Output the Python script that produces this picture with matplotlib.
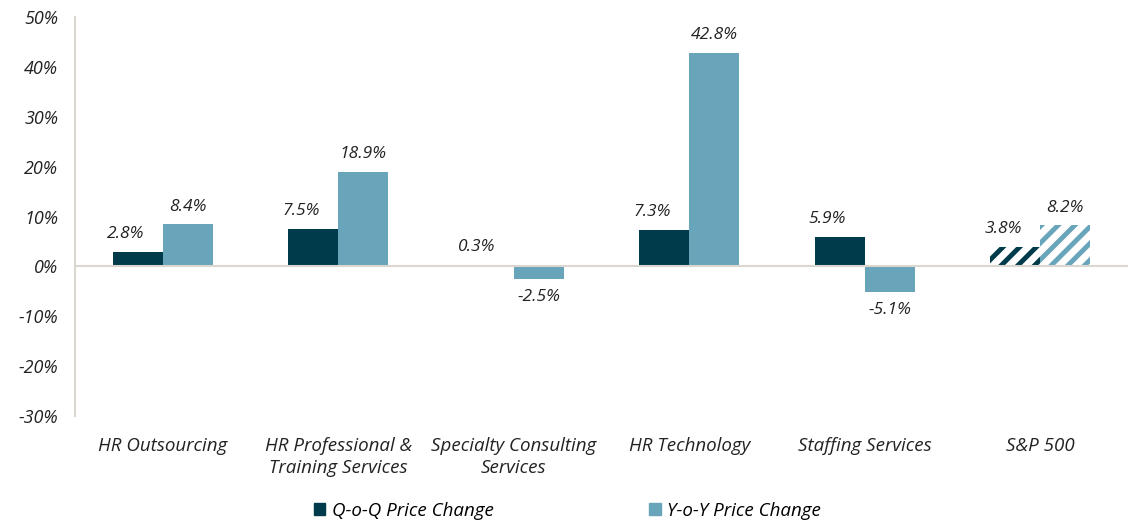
import matplotlib
matplotlib.use("Agg")
import matplotlib.pyplot as plt
import numpy as np

categories = ["HR Outsourcing", "HR Professional &\nTraining Services", "Specialty Consulting\nServices",
              "HR Technology", "Staffing Services", "S&P 500"]
qoq = [2.8, 7.5, 0.3, 7.3, 5.9, 3.8]
yoy = [8.4, 18.9, -2.5, 42.8, -5.1, 8.2]
yticks = [-30, -20, -10, 0, 10, 20, 30, 40, 50]
series_names = ["Q-o-Q Price Change", "Y-o-Y Price Change"]

dark = "#003B4C"
light = "#68A4BA"
axcol = "#DCD6D0"
txtcol = "#222222"

plt.rcParams['font.family'] = ['Open Sans', 'DejaVu Sans']
plt.rcParams['hatch.linewidth'] = 3.5
FS_CAT = 13.5
FS_TICK = 13
FS_LAB = 12.5

fig = plt.figure(figsize=(11.35, 5.25), dpi=100)
ax = fig.add_axes([75/1135, 1-416/525, (1128-75)/1135, (416-17)/525])

x = np.arange(len(categories))
w = 0.285
n = len(categories)
for i in range(n):
    hatched = categories[i] == "S&P 500"
    for val, off, col in ((qoq[i], -w/2, dark), (yoy[i], w/2, light)):
        if hatched:
            ax.bar(x[i] + off, val, w, facecolor="white", edgecolor=col, hatch="//", linewidth=0, zorder=2)
        else:
            ax.bar(x[i] + off, val, w, color=col, zorder=2)
        va = "bottom" if val >= 0 else "top"
        dy = 2.0 if val >= 0 else -2.0
        ax.text(x[i] + off - (0.07 if off < 0 else 0), val + dy, f"{val:.1f}%", ha="center", va=va,
                fontsize=FS_LAB, style="italic", color=txtcol)

ax.set_xlim(-0.5, n - 0.5)
ax.set_ylim(-30, 50)
ax.set_yticks(yticks)
ax.set_yticklabels([f"{t}%" for t in yticks], fontsize=FS_TICK, style="italic", color=txtcol)
ax.set_xticks(x)
ax.set_xticklabels(categories, fontsize=FS_CAT, style="italic", color=txtcol, linespacing=1.3)
ax.tick_params(axis="both", length=0)
ax.tick_params(axis="y", pad=12)
ax.tick_params(axis="x", pad=15)
for s in ["top", "right", "bottom"]:
    ax.spines[s].set_visible(False)
ax.spines["left"].set_color(axcol)
ax.spines["left"].set_linewidth(1.5)
ax.axhline(0, color=axcol, linewidth=1.5, zorder=3)

from matplotlib.patches import Patch
handles = [Patch(color=dark), Patch(color=light)]
fig.legend(handles, series_names, loc="center", bbox_to_anchor=(0.5, 1-511/525), ncol=2,
           frameon=False, prop={'style': 'italic', 'size': FS_CAT},
           handlelength=0.6, handleheight=0.6, handletextpad=0.35, columnspacing=8.3)

fig.savefig("out.png", dpi=100)
